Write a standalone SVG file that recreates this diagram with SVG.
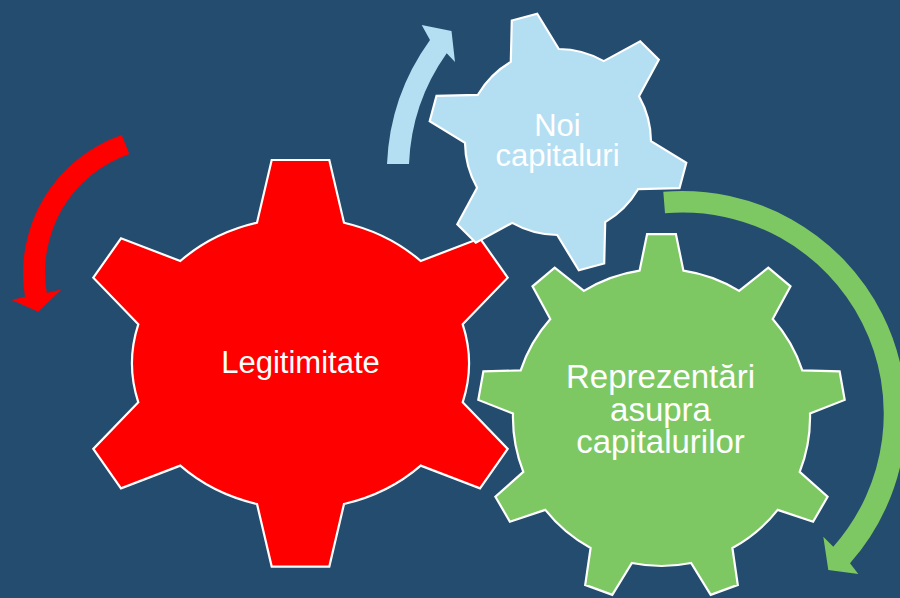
<svg xmlns="http://www.w3.org/2000/svg" width="900" height="598" viewBox="0 0 900 598">
<style>
.gear{stroke:#FFFFFF;stroke-width:2.2;stroke-linejoin:miter}
.lbl{font-family:"Liberation Sans",Arial,sans-serif;fill:#FFFFFF;text-anchor:middle}
</style>
<rect x="0" y="0" width="900" height="598" fill="#244C6F"/>
<g id="connectors">
<path id="arrow-red" fill="#FF0000" d="M 121.7,135 A 146 146 0 0 0 25,296.7 L 11.7,300 L 38.3,311.7 L 61.7,289.3 L 46.8,293 A 125 125 0 0 1 129.3,154 Z"/>
<path id="arrow-blue" fill="#B4DEF2" d="M 387,164 A 228 228 0 0 1 430,40 L 421.7,25 L 451.5,31 L 455,62 L 446.7,53.3 A 206 206 0 0 0 409,164 Z"/>
<path id="arrow-green" fill="#7DC863" d="M 663.3,191.7 A 224 224 0 0 1 850,563.3 L 858.3,574 L 828.3,570 L 823.3,536.7 L 833.3,546.7 A 201 201 0 0 0 665,213.3 Z"/>
</g>
<g id="legitimitate">
<path class="gear" fill="#FF0000" d="M 271.7,160 L 329.3,160 L 344,222.7 A 170 145 0 0 1 420.7,261 L 480,238.3 L 507.7,277.7 L 462.7,324.3 A 170 145 0 0 1 462.7,402.3 L 507.7,448.9 L 480,488.3 L 420.7,465.6 A 170 145 0 0 1 344,504 L 329.3,566.6 L 271.7,566.6 L 257,504 A 170 145 0 0 1 180.3,465.6 L 121,488.3 L 93.3,448.9 L 138.3,402.3 A 170 145 0 0 1 138.3,324.3 L 93.3,277.7 L 121,238.3 L 180.3,261 A 170 145 0 0 1 257,222.7 Z"/>
<text class="lbl" x="300.5" y="373" font-size="31">Legitimitate</text>
</g>
<g id="reprezentari">
<path class="gear" fill="#7DC863" d="M 639.6,270.6 L 647.1,234.1 L 675.9,234.1 L 683.4,270.6 A 148.5 148.5 0 0 1 739.1,290.9 L 768.3,267.7 L 790.5,286.3 L 772.7,319.1 A 148.5 148.5 0 0 1 802.3,370.4 L 839.6,371.4 L 844.7,399.9 L 810,413.6 A 148.5 148.5 0 0 1 799.7,471.9 L 827.6,496.7 L 813.1,521.7 L 777.7,509.9 A 148.5 148.5 0 0 1 732.4,548 L 737.8,584.9 L 710.7,594.8 L 691.1,563 A 148.5 148.5 0 0 1 631.9,563 L 612.3,594.8 L 585.2,584.9 L 590.6,548 A 148.5 148.5 0 0 1 545.3,509.9 L 509.9,521.7 L 495.4,496.7 L 523.3,471.9 A 148.5 148.5 0 0 1 513,413.6 L 478.3,399.9 L 483.4,371.4 L 520.7,370.4 A 148.5 148.5 0 0 1 550.3,319.1 L 532.5,286.3 L 554.7,267.7 L 583.9,290.9 A 148.5 148.5 0 0 1 639.6,270.6 Z"/>
<text class="lbl" font-size="33"><tspan x="660.5" y="388">Reprezentări</tspan><tspan x="660.5" y="421">asupra</tspan><tspan x="660.5" y="453">capitalurilor</tspan></text>
</g>
<g id="noi-capitaluri">
<path class="gear" fill="#B4DEF2" d="M 510.8,61.9 L 511.8,20.5 L 537.2,13.7 L 558.8,49 A 93 93 0 0 1 603.8,61.1 L 640.2,41.3 L 658.8,59.8 L 639,96.2 A 93 93 0 0 1 651,141.2 L 686.3,162.8 L 679.5,188.2 L 638.1,189.2 A 93 93 0 0 1 605.2,222.1 L 604.2,263.5 L 578.8,270.3 L 557.2,235 A 93 93 0 0 1 512.2,222.9 L 475.8,242.7 L 457.3,224.2 L 477.1,187.8 A 93 93 0 0 1 465,142.8 L 429.7,121.2 L 436.5,95.8 L 477.9,94.8 A 93 93 0 0 1 510.8,61.9 Z"/>
<text class="lbl" font-size="31"><tspan x="557.5" y="135.5">Noi</tspan><tspan x="557.5" y="166">capitaluri</tspan></text>
</g>
</svg>
